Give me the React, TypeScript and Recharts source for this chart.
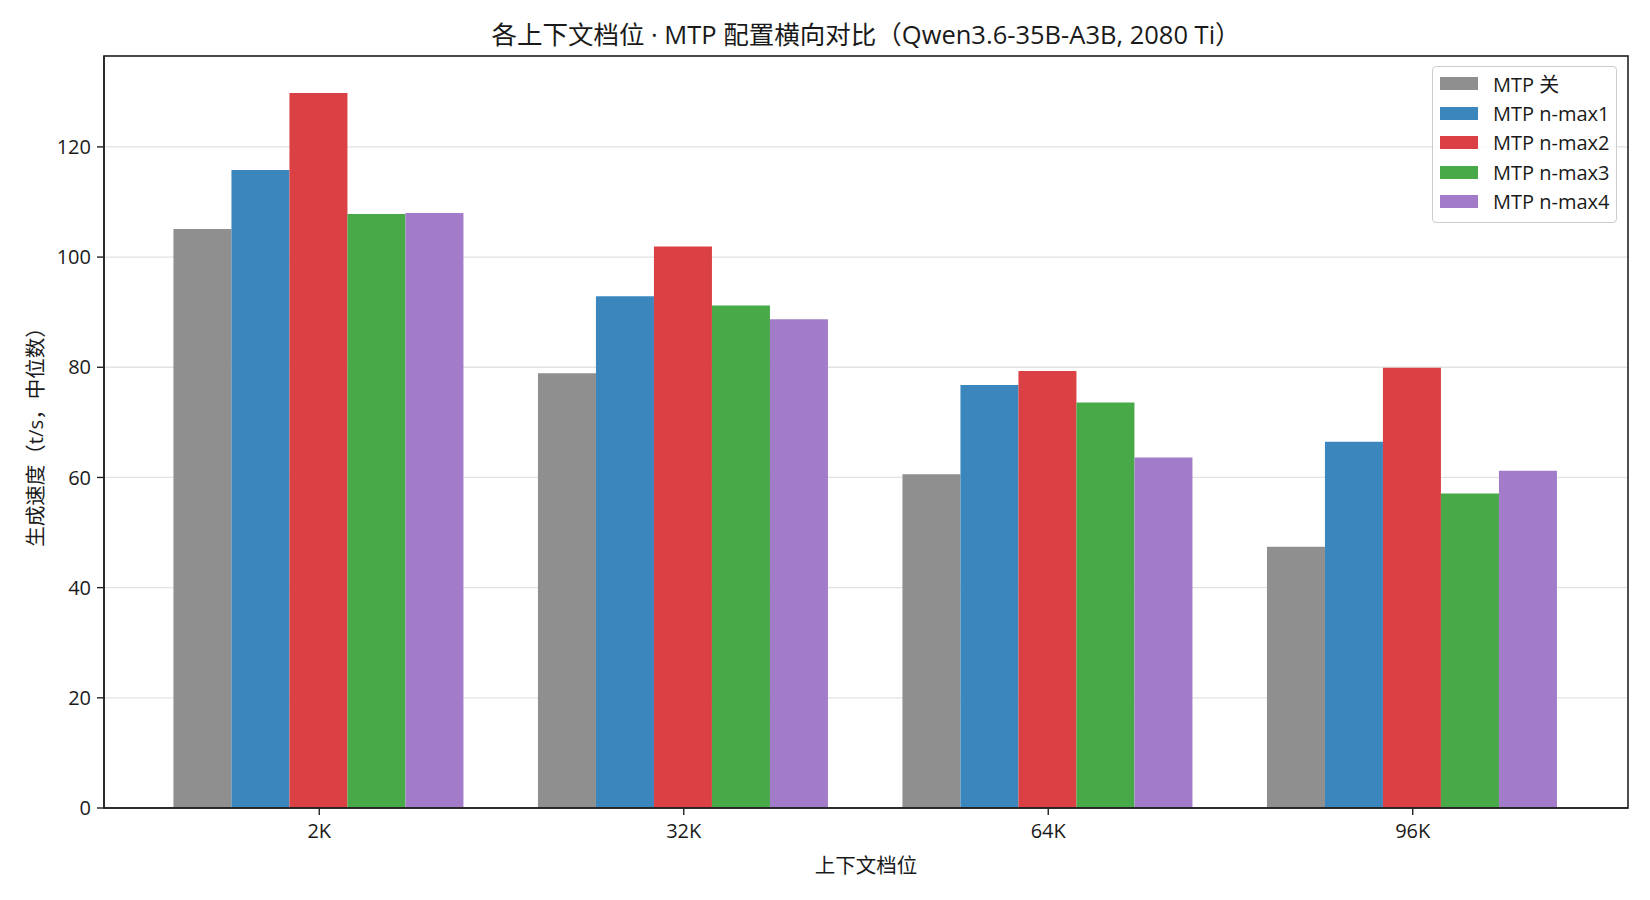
import React from "react";
import {
    BarChart,
    Bar,
    XAxis,
    YAxis,
    CartesianGrid,
    Legend,
} from "recharts";

const CATEGORIES = ["2K", "32K", "64K", "96K"];
const MTP_OFF = [105.1, 78.9, 60.6, 47.4];
const MTP_NMAX1 = [115.8, 92.9, 76.8, 66.5];
const MTP_NMAX2 = [129.8, 101.9, 79.3, 79.9];
const MTP_NMAX3 = [107.8, 91.2, 73.6, 57.1];
const MTP_NMAX4 = [108.0, 88.7, 63.6, 61.2];

const SERIES_KEYS = ["off", "n1", "n2", "n3", "n4"];
const SERIES_NAMES = ["MTP 关", "MTP n-max1", "MTP n-max2", "MTP n-max3", "MTP n-max4"];
const SERIES_VALUES = [MTP_OFF, MTP_NMAX1, MTP_NMAX2, MTP_NMAX3, MTP_NMAX4];
const COLORS = ["#8f8f8f", "#3b87bd", "#db4144", "#47a947", "#a27cc8"];

const Y_TICKS = [0, 20, 40, 60, 80, 100, 120];

const FONT = '"Open Sans", "Noto Sans CJK SC", sans-serif';
const INK = "#1a1a1a";
const SPINE = "#222222";

// plot box (matches chart margins + axis sizes below)
const PLOT = { left: 104, top: 56, width: 1524, height: 752 };

const data = CATEGORIES.map((name, i) => {
    const row: Record<string, string | number> = { name };
    SERIES_KEYS.forEach((k, s) => {
        row[k] = SERIES_VALUES[s][i];
    });
    return row;
});

function YLabel(props: any) {
    const vb = props.viewBox;
    const cx = vb.x + 25;
    const cy = vb.y + vb.height / 2;
    return (
        <text
            x={cx}
            y={cy}
            transform={`rotate(-90 ${cx} ${cy})`}
            textAnchor="middle"
            dominantBaseline="central"
            fontSize={20.5}
            fontFamily={FONT}
            fill={INK}
        >
            生成速度（t/s，中位数）
        </text>
    );
}

function XLabel(props: any) {
    const vb = props.viewBox;
    return (
        <text
            x={vb.x + vb.width / 2}
            y={vb.y + 57}
            textAnchor="middle"
            dominantBaseline="central"
            fontSize={20.5}
            fontFamily={FONT}
            fill={INK}
        >
            上下文档位
        </text>
    );
}

function LegendBox({ payload }: any) {
    const items = [...(payload || [])].sort(
        (a: any, b: any) => SERIES_NAMES.indexOf(a.value) - SERIES_NAMES.indexOf(b.value)
    );
    return (
        <div
            style={{
                boxSizing: "border-box",
                width: 185,
                padding: "2px 6px 5px 7px",
                border: "1px solid #cccccc",
                borderRadius: 4,
                background: "rgba(255,255,255,0.8)",
                fontFamily: FONT,
                fontSize: 20,
                color: INK,
            }}
        >
            {items.map((entry: any) => (
                <div
                    key={entry.value}
                    style={{ display: "flex", alignItems: "center", height: 29.5, whiteSpace: "nowrap" }}
                >
                    <span
                        style={{
                            display: "inline-block",
                            width: 38,
                            height: 13,
                            background: entry.color,
                            marginRight: 15,
                            flex: "none",
                        }}
                    />
                    <span>{entry.value}</span>
                </div>
            ))}
        </div>
    );
}

export default function App() {
    return (
        <div style={{ position: "relative", width: 1650, height: 900, background: "#fff" }}>
            <style>{"body{margin:0;}"}</style>
            <div
                style={{
                    position: "absolute",
                    left: PLOT.left,
                    width: PLOT.width,
                    top: 18,
                    textAlign: "center",
                    fontFamily: FONT,
                    fontSize: 25.5,
                    color: INK,
                    lineHeight: "32px",
                    whiteSpace: "nowrap",
                }}
            >
                各上下文档位 · MTP 配置横向对比（Qwen3.6-35B-A3B, 2080 Ti）
            </div>
            <BarChart
                width={1650}
                height={900}
                data={data}
                margin={{ top: 56, right: 22, bottom: 22, left: 10 }}
                barCategoryGap="10%"
                barGap={0}
            >
                <CartesianGrid vertical={false} stroke="#e2e2e2" strokeWidth={1.3} />
                <XAxis
                    dataKey="name"
                    height={70}
                    padding={{ left: 33, right: 33 }}
                    axisLine={{ stroke: SPINE, strokeWidth: 1.6 }}
                    tickLine={{ stroke: SPINE, strokeWidth: 1.4 }}
                    tickSize={7}
                    tickMargin={9}
                    tick={{ fontSize: 20, fontFamily: FONT, fill: INK }}
                    label={<XLabel />}
                />
                <YAxis
                    width={94}
                    domain={[0, 136.5]}
                    ticks={Y_TICKS}
                    allowDataOverflow
                    axisLine={{ stroke: SPINE, strokeWidth: 1.6 }}
                    tickLine={{ stroke: SPINE, strokeWidth: 1.4 }}
                    tickSize={7}
                    tickMargin={6}
                    tick={{ fontSize: 20, fontFamily: FONT, fill: INK }}
                    label={<YLabel />}
                />
                <Legend
                    layout="vertical"
                    align="center"
                    verticalAlign="middle"
                    content={<LegendBox />}
                    wrapperStyle={{ top: 66, left: 1432, width: 185, right: "auto", bottom: "auto" }}
                />
                {SERIES_KEYS.map((k, s) => (
                    <Bar
                        key={k}
                        dataKey={k}
                        name={SERIES_NAMES[s]}
                        fill={COLORS[s]}
                        isAnimationActive={false}
                    />
                ))}
            </BarChart>
            <svg
                width={1650}
                height={900}
                style={{ position: "absolute", left: 0, top: 0, pointerEvents: "none" }}
            >
                <rect
                    x={PLOT.left}
                    y={PLOT.top}
                    width={PLOT.width}
                    height={PLOT.height}
                    fill="none"
                    stroke={SPINE}
                    strokeWidth={1.6}
                />
            </svg>
        </div>
    );
}
